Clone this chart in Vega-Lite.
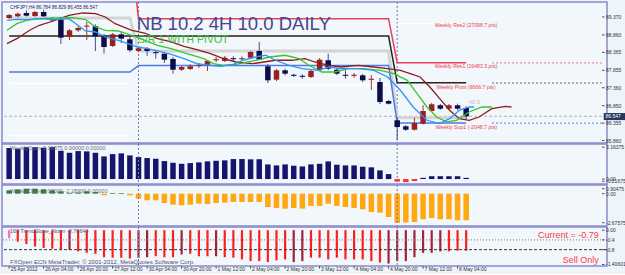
{
"$schema": "https://vega.github.io/schema/vega-lite/v6.json",
"background": "#eef5fa",
"padding": 0,
"spacing": 1,
"bounds": "flush",
"resolve": {"scale": {"color": "independent"}},
"config": {
 "view": {"stroke": "#8a8acb", "strokeWidth": 1.5, "fill": "#f1f7fb"},
 "text": {"font": "Liberation Sans"}
},
"datasets": {
 "candles": [
  {"i":0,"o":89.342,"h":89.455,"l":89.313,"c":89.427},
  {"i":1,"o":89.390,"h":89.498,"l":89.356,"c":89.464},
  {"i":2,"o":89.484,"h":89.560,"l":89.384,"c":89.407},
  {"i":3,"o":89.398,"h":89.540,"l":89.370,"c":89.512},
  {"i":4,"o":89.512,"h":89.577,"l":89.370,"c":89.390},
  {"i":5,"o":89.305,"h":89.370,"l":89.228,"c":89.275},
  {"i":6,"o":89.293,"h":89.342,"l":88.603,"c":88.782},
  {"i":7,"o":88.802,"h":89.029,"l":88.716,"c":88.992},
  {"i":8,"o":88.992,"h":89.106,"l":88.944,"c":89.057},
  {"i":9,"o":89.095,"h":89.228,"l":88.716,"c":89.125},
  {"i":10,"o":89.106,"h":89.163,"l":88.404,"c":88.822},
  {"i":11,"o":88.839,"h":88.887,"l":88.327,"c":88.517},
  {"i":12,"o":88.546,"h":88.915,"l":88.517,"c":88.878},
  {"i":13,"o":88.878,"h":88.944,"l":88.631,"c":88.753},
  {"i":14,"o":88.736,"h":88.802,"l":88.375,"c":88.424},
  {"i":15,"o":88.404,"h":88.517,"l":88.375,"c":88.481},
  {"i":16,"o":88.469,"h":88.517,"l":88.262,"c":88.404},
  {"i":17,"o":88.370,"h":88.424,"l":88.185,"c":88.340},
  {"i":18,"o":88.327,"h":88.375,"l":88.063,"c":88.157},
  {"i":19,"o":88.177,"h":88.233,"l":87.759,"c":87.872},
  {"i":20,"o":87.872,"h":87.977,"l":87.835,"c":87.949},
  {"i":21,"o":87.892,"h":88.025,"l":87.864,"c":87.969},
  {"i":22,"o":87.980,"h":88.063,"l":87.920,"c":88.010},
  {"i":23,"o":87.997,"h":88.149,"l":87.835,"c":88.120},
  {"i":24,"o":88.140,"h":88.233,"l":88.091,"c":88.170},
  {"i":25,"o":88.120,"h":88.262,"l":88.091,"c":88.213},
  {"i":26,"o":88.200,"h":88.253,"l":88.120,"c":88.170},
  {"i":27,"o":88.170,"h":88.253,"l":88.120,"c":88.200},
  {"i":28,"o":88.213,"h":88.404,"l":88.177,"c":88.375},
  {"i":29,"o":88.404,"h":88.660,"l":88.149,"c":88.157},
  {"i":30,"o":87.969,"h":88.034,"l":87.494,"c":87.571},
  {"i":31,"o":87.588,"h":87.892,"l":87.551,"c":87.855},
  {"i":32,"o":87.855,"h":87.901,"l":87.713,"c":87.759},
  {"i":33,"o":87.728,"h":87.759,"l":87.665,"c":87.698},
  {"i":34,"o":87.700,"h":87.742,"l":87.617,"c":87.670},
  {"i":35,"o":87.665,"h":87.872,"l":87.637,"c":87.835},
  {"i":36,"o":87.855,"h":88.205,"l":87.835,"c":88.157},
  {"i":37,"o":88.140,"h":88.327,"l":87.864,"c":87.901},
  {"i":38,"o":87.872,"h":87.920,"l":87.722,"c":87.759},
  {"i":39,"o":87.728,"h":87.855,"l":87.617,"c":87.698},
  {"i":40,"o":87.698,"h":87.779,"l":87.645,"c":87.728},
  {"i":41,"o":87.713,"h":87.750,"l":87.523,"c":87.571},
  {"i":42,"o":87.585,"h":87.722,"l":87.296,"c":87.615},
  {"i":43,"o":87.523,"h":87.637,"l":86.898,"c":86.955},
  {"i":44,"o":86.983,"h":87.012,"l":86.884,"c":86.906},
  {"i":45,"o":86.435,"h":86.528,"l":85.866,"c":86.244},
  {"i":46,"o":86.264,"h":86.301,"l":86.131,"c":86.167},
  {"i":47,"o":86.167,"h":86.508,"l":86.145,"c":86.358},
  {"i":48,"o":86.338,"h":86.861,"l":86.316,"c":86.699},
  {"i":49,"o":86.699,"h":86.926,"l":86.670,"c":86.889},
  {"i":50,"o":86.861,"h":86.898,"l":86.727,"c":86.764},
  {"i":51,"o":86.764,"h":86.898,"l":86.741,"c":86.861},
  {"i":52,"o":86.861,"h":86.906,"l":86.719,"c":86.764},
  {"i":53,"o":86.784,"h":86.829,"l":86.455,"c":86.547}
 ],
 "levels": [
  {"s":"white","g":"a","i":0,"p":87.48},{"s":"white","g":"a","i":14,"p":87.48},
  {"s":"white","g":"b","i":15,"p":87.44},{"s":"white","g":"b","i":44,"p":87.44},
  {"s":"white","g":"c","i":45,"p":89.18},{"s":"white","g":"c","i":53,"p":89.18},
  {"s":"white","g":"d","i":0,"p":86.0},{"s":"white","g":"d","i":14,"p":86.0},
  {"s":"red","g":"r","i":0,"p":91.5},{"s":"red","g":"r","i":14,"p":91.5},{"s":"red","g":"r","i":15,"p":89.322},{"s":"red","g":"r","i":44,"p":89.322},{"s":"red","g":"r","i":45,"p":88.07},{"s":"red","g":"r","i":53,"p":88.07},
  {"s":"black","g":"k","i":0,"p":88.83},{"s":"black","g":"k","i":44,"p":88.83},{"s":"black","g":"k","i":45,"p":87.5},{"s":"black","g":"k","i":53,"p":87.5},
  {"s":"blue","g":"u","i":0,"p":87.807},{"s":"blue","g":"u","i":14,"p":87.807},{"s":"blue","g":"u","i":15,"p":87.99},{"s":"blue","g":"u","i":44,"p":87.99},{"s":"blue","g":"u","i":45,"p":86.355},{"s":"blue","g":"u","i":53,"p":86.355}
 ],
 "gray": [
  {"i":0,"p":89.342},{"i":14,"p":89.342},{"i":15,"p":88.404},{"i":44,"p":88.404},{"i":45,"p":86.51},{"i":53,"p":86.51}
 ],
 "ma": [
  {"s":"ma_brown","i":-0.25,"p":88.611},{"s":"ma_brown","i":0.89,"p":88.753},{"s":"ma_brown","i":2.37,"p":88.992},{"s":"ma_brown","i":3.51,"p":89.134},{"s":"ma_brown","i":5.11,"p":89.256},{"s":"ma_brown","i":6.93,"p":89.418},{"s":"ma_brown","i":8.53,"p":89.484},{"s":"ma_brown","i":10.01,"p":89.464},{"s":"ma_brown","i":11.15,"p":89.37},{"s":"ma_brown","i":12.29,"p":89.18},{"s":"ma_brown","i":14.23,"p":88.992},{"s":"ma_brown","i":15.72,"p":88.915},{"s":"ma_brown","i":17.2,"p":88.753},{"s":"ma_brown","i":18.8,"p":88.66},{"s":"ma_brown","i":20.28,"p":88.537},{"s":"ma_brown","i":21.76,"p":88.441},{"s":"ma_brown","i":23.36,"p":88.327},{"s":"ma_brown","i":24.84,"p":88.185},{"s":"ma_brown","i":26.32,"p":88.091},{"s":"ma_brown","i":28.26,"p":88.043},{"s":"ma_brown","i":30.88,"p":88.14},{"s":"ma_brown","i":32.82,"p":88.14},{"s":"ma_brown","i":34.31,"p":88.185},{"s":"ma_brown","i":35.45,"p":88.091},{"s":"ma_brown","i":37.04,"p":87.997},{"s":"ma_brown","i":38.53,"p":87.949},{"s":"ma_brown","i":40.47,"p":87.997},{"s":"ma_brown","i":42.29,"p":87.949},{"s":"ma_brown","i":43.89,"p":87.901},{"s":"ma_brown","i":45.37,"p":87.855},{"s":"ma_brown","i":46.51,"p":87.759},{"s":"ma_brown","i":47.65,"p":87.665},{"s":"ma_brown","i":48.79,"p":87.381},{"s":"ma_brown","i":49.93,"p":87.048},{"s":"ma_brown","i":51.07,"p":86.719},{"s":"ma_brown","i":52.21,"p":86.48},{"s":"ma_brown","i":53.35,"p":86.435},{"s":"ma_brown","i":54.49,"p":86.528},{"s":"ma_brown","i":55.97,"p":86.764},{"s":"ma_brown","i":57.57,"p":86.832},{"s":"ma_brown","i":58.25,"p":86.812},
  {"s":"ma_green","i":-0.25,"p":88.992},{"s":"ma_green","i":0.89,"p":89.18},{"s":"ma_green","i":2.03,"p":89.276},{"s":"ma_green","i":3.51,"p":89.322},{"s":"ma_green","i":5.45,"p":89.342},{"s":"ma_green","i":7.39,"p":89.35},{"s":"ma_green","i":8.87,"p":89.293},{"s":"ma_green","i":10.01,"p":89.086},{"s":"ma_green","i":11.15,"p":88.992},{"s":"ma_green","i":12.64,"p":88.972},{"s":"ma_green","i":14.23,"p":88.85},{"s":"ma_green","i":15.72,"p":88.708},{"s":"ma_green","i":17.2,"p":88.566},{"s":"ma_green","i":18.8,"p":88.469},{"s":"ma_green","i":20.62,"p":88.327},{"s":"ma_green","i":22.56,"p":88.185},{"s":"ma_green","i":23.7,"p":88.043},{"s":"ma_green","i":24.84,"p":87.997},{"s":"ma_green","i":26.32,"p":88.026},{"s":"ma_green","i":28.6,"p":88.14},{"s":"ma_green","i":30.2,"p":88.233},{"s":"ma_green","i":32.02,"p":88.282},{"s":"ma_green","i":33.62,"p":88.185},{"s":"ma_green","i":34.76,"p":87.997},{"s":"ma_green","i":36.24,"p":87.807},{"s":"ma_green","i":37.73,"p":87.807},{"s":"ma_green","i":39.33,"p":87.901},{"s":"ma_green","i":41.15,"p":87.901},{"s":"ma_green","i":43.09,"p":87.855},{"s":"ma_green","i":44.57,"p":87.759},{"s":"ma_green","i":46.17,"p":87.571},{"s":"ma_green","i":47.31,"p":87.19},{"s":"ma_green","i":48.45,"p":86.812},{"s":"ma_green","i":49.59,"p":86.528},{"s":"ma_green","i":50.73,"p":86.386},{"s":"ma_green","i":51.87,"p":86.435},{"s":"ma_green","i":53.35,"p":86.67},{"s":"ma_green","i":54.83,"p":86.812},{"s":"ma_green","i":55.97,"p":86.812},
  {"s":"ma_blue","i":-0.25,"p":89.276},{"s":"ma_blue","i":0.89,"p":89.305},{"s":"ma_blue","i":2.03,"p":89.293},{"s":"ma_blue","i":3.51,"p":89.322},{"s":"ma_blue","i":5.45,"p":89.293},{"s":"ma_blue","i":6.93,"p":89.322},{"s":"ma_blue","i":7.96,"p":89.134},{"s":"ma_blue","i":8.87,"p":88.972},{"s":"ma_blue","i":10.01,"p":88.944},{"s":"ma_blue","i":11.15,"p":88.802},{"s":"ma_blue","i":12.64,"p":88.708},{"s":"ma_blue","i":13.78,"p":88.611},{"s":"ma_blue","i":14.92,"p":88.517},{"s":"ma_blue","i":16.06,"p":88.469},{"s":"ma_blue","i":17.2,"p":88.404},{"s":"ma_blue","i":18.8,"p":88.31},{"s":"ma_blue","i":20.28,"p":88.185},{"s":"ma_blue","i":21.76,"p":88.043},{"s":"ma_blue","i":23.36,"p":87.997},{"s":"ma_blue","i":24.5,"p":87.969},{"s":"ma_blue","i":25.98,"p":88.026},{"s":"ma_blue","i":27.12,"p":88.14},{"s":"ma_blue","i":28.6,"p":88.233},{"s":"ma_blue","i":29.74,"p":88.282},{"s":"ma_blue","i":30.88,"p":88.14},{"s":"ma_blue","i":32.48,"p":87.997},{"s":"ma_blue","i":33.96,"p":87.901},{"s":"ma_blue","i":35.9,"p":87.855},{"s":"ma_blue","i":37.04,"p":87.949},{"s":"ma_blue","i":38.53,"p":87.901},{"s":"ma_blue","i":40.47,"p":87.901},{"s":"ma_blue","i":42.29,"p":87.855},{"s":"ma_blue","i":43.89,"p":87.665},{"s":"ma_blue","i":45.37,"p":87.287},{"s":"ma_blue","i":46.85,"p":86.812},{"s":"ma_blue","i":48.45,"p":86.435},{"s":"ma_blue","i":49.93,"p":86.338},{"s":"ma_blue","i":51.07,"p":86.48},{"s":"ma_blue","i":52.21,"p":86.719},{"s":"ma_blue","i":53.35,"p":86.812},{"s":"ma_blue","i":53.92,"p":86.812}
 ],
 "seps": [{"i":15},{"i":45}],
 "p2": [
  {"i":0,"v":3.07},{"i":1,"v":3.0},{"i":2,"v":3.16},{"i":3,"v":3.16},{"i":4,"v":3.1},{"i":5,"v":3.16},{"i":6,"v":2.8},{"i":7,"v":2.6},{"i":8,"v":2.77},{"i":9,"v":2.74},{"i":10,"v":2.6},{"i":11,"v":2.24},{"i":12,"v":2.47},{"i":13,"v":2.54},{"i":14,"v":2.34},{"i":15,"v":2.18},{"i":16,"v":2.08},{"i":17,"v":2.01},{"i":18,"v":1.78},{"i":19,"v":1.61},{"i":20,"v":1.51},{"i":21,"v":1.58},{"i":22,"v":1.65},{"i":23,"v":1.75},{"i":24,"v":1.81},{"i":25,"v":1.85},{"i":26,"v":1.98},{"i":27,"v":1.98},{"i":28,"v":1.95},{"i":29,"v":1.95},{"i":30,"v":1.45},{"i":31,"v":1.35},{"i":32,"v":1.45},{"i":33,"v":1.32},{"i":34,"v":1.25},{"i":35,"v":1.45},{"i":36,"v":1.51},{"i":37,"v":1.75},{"i":38,"v":1.42},{"i":39,"v":1.35},{"i":40,"v":1.35},{"i":41,"v":1.22},{"i":42,"v":1.16},{"i":43,"v":0.86},{"i":44,"v":0.49},{"i":45,"v":-0.25},{"i":46,"v":-0.3},{"i":47,"v":-0.2},{"i":48,"v":0.12},{"i":49,"v":0.28},{"i":50,"v":0.28},{"i":51,"v":0.28},{"i":52,"v":0.28},{"i":53,"v":0.12}
 ],
 "p3": [
  {"i":0,"v":0.31},{"i":1,"v":0.4},{"i":2,"v":0.46},{"i":3,"v":0.46},{"i":4,"v":0.4},{"i":5,"v":0.31},{"i":6,"v":0.22},{"i":7,"v":0.06},{"i":8,"v":0.1},{"i":9,"v":0.22},{"i":10,"v":0.15},{"i":11,"v":-0.15},{"i":12,"v":0.06},{"i":13,"v":0.06},{"i":14,"v":-0.15},{"i":15,"v":-0.46},{"i":16,"v":-0.61},{"i":17,"v":-0.61},{"i":18,"v":-0.86},{"i":19,"v":-1.01},{"i":20,"v":-1.07},{"i":21,"v":-1.01},{"i":22,"v":-0.92},{"i":23,"v":-0.95},{"i":24,"v":-0.86},{"i":25,"v":-0.83},{"i":26,"v":-0.77},{"i":27,"v":-0.77},{"i":28,"v":-0.77},{"i":29,"v":-0.77},{"i":30,"v":-1.23},{"i":31,"v":-1.32},{"i":32,"v":-1.38},{"i":33,"v":-1.32},{"i":34,"v":-1.38},{"i":35,"v":-1.13},{"i":36,"v":-1.13},{"i":37,"v":-0.92},{"i":38,"v":-1.13},{"i":39,"v":-1.23},{"i":40,"v":-1.32},{"i":41,"v":-1.44},{"i":42,"v":-1.69},{"i":43,"v":-1.75},{"i":44,"v":-2.15},{"i":45,"v":-2.68},{"i":46,"v":-2.66},{"i":47,"v":-2.61},{"i":48,"v":-2.36},{"i":49,"v":-2.24},{"i":50,"v":-2.36},{"i":51,"v":-2.36},{"i":52,"v":-2.45},{"i":53,"v":-2.45}
 ],
 "p4": [
  {"i":0,"v":-0.33,"c":"p"},{"i":1,"v":-0.47,"c":"r"},{"i":2,"v":-0.57,"c":"r"},{"i":3,"v":-0.67,"c":"r"},{"i":4,"v":-0.73,"c":"r"},{"i":5,"v":-0.76,"c":"r"},{"i":6,"v":-0.8,"c":"r"},{"i":7,"v":-0.8,"c":"d"},{"i":8,"v":-0.87,"c":"r"},{"i":9,"v":-0.93,"c":"r"},{"i":10,"v":-0.97,"c":"r"},{"i":11,"v":-1.11,"c":"r"},{"i":12,"v":-1.13,"c":"r"},{"i":13,"v":-1.13,"c":"r"},{"i":14,"v":-1.16,"c":"r"},{"i":15,"v":-1.13,"c":"d"},{"i":16,"v":-1.11,"c":"d"},{"i":17,"v":-1.07,"c":"r"},{"i":18,"v":-1.11,"c":"r"},{"i":19,"v":-1.11,"c":"r"},{"i":20,"v":-1.0,"c":"d"},{"i":21,"v":-0.97,"c":"r"},{"i":22,"v":-1.07,"c":"r"},{"i":23,"v":-1.07,"c":"r"},{"i":24,"v":-1.07,"c":"d"},{"i":25,"v":-1.11,"c":"r"},{"i":26,"v":-1.13,"c":"r"},{"i":27,"v":-1.2,"c":"r"},{"i":28,"v":-1.27,"c":"r"},{"i":29,"v":-1.27,"c":"r"},{"i":30,"v":-1.31,"c":"r"},{"i":31,"v":-1.24,"c":"r"},{"i":32,"v":-1.2,"c":"r"},{"i":33,"v":-1.31,"c":"d"},{"i":34,"v":-1.27,"c":"d"},{"i":35,"v":-1.13,"c":"r"},{"i":36,"v":-1.13,"c":"r"},{"i":37,"v":-1.2,"c":"r"},{"i":38,"v":-1.13,"c":"r"},{"i":39,"v":-1.2,"c":"r"},{"i":40,"v":-1.2,"c":"r"},{"i":41,"v":-1.2,"c":"r"},{"i":42,"v":-1.27,"c":"r"},{"i":43,"v":-1.33,"c":"r"},{"i":44,"v":-1.37,"c":"d"},{"i":45,"v":-1.27,"c":"d"},{"i":46,"v":-1.27,"c":"d"},{"i":47,"v":-1.11,"c":"d"},{"i":48,"v":-0.93,"c":"d"},{"i":49,"v":-0.93,"c":"d"},{"i":50,"v":-0.87,"c":"d"},{"i":51,"v":-0.87,"c":"r"},{"i":52,"v":-0.84,"c":"r"},{"i":53,"v":-0.84,"c":"r"}
 ],
 "ylab1": [
  {"i":68.75,"i2":69.05,"p":85.86,"t":"85.860"},{"i":68.75,"i2":69.05,"p":86.355,"t":"86.355"},{"i":68.75,"i2":69.05,"p":86.85,"t":"86.850"},{"i":68.75,"i2":69.05,"p":87.36,"t":"87.360"},{"i":68.75,"i2":69.05,"p":87.855,"t":"87.855"},{"i":68.75,"i2":69.05,"p":88.365,"t":"88.365"},{"i":68.75,"i2":69.05,"p":88.86,"t":"88.860"},{"i":68.75,"i2":69.05,"p":89.37,"t":"89.370"}
 ],
 "ylab2": [
  {"i":68.75,"i2":69.05,"v":3.16375,"t":"3.16375"},{"i":68.75,"i2":69.05,"v":0,"t":"0.00"},{"i":68.75,"i2":69.05,"v":-0.21675,"t":"-0.21675"}
 ],
 "ylab3": [
  {"i":68.75,"i2":69.05,"v":0.46,"t":"0.90475"},{"i":68.75,"i2":69.05,"v":0,"t":"0.00"},{"i":68.75,"i2":69.05,"v":-2.67575,"t":"-2.67575"}
 ],
 "ylab4": [
  {"i":68.75,"i2":69.05,"v":0,"t":"0.00"},{"i":68.75,"i2":69.05,"v":-0.4,"t":"-0.4"},{"i":68.75,"i2":69.05,"v":-0.8,"t":"-0.8"},{"i":68.75,"i2":69.05,"v":-1.40601,"t":"-1.40601"}
 ],
 "xlab": [
  {"i":0,"t":"25 Apr 2012"},{"i":4,"t":"26 Apr 04:00"},{"i":8,"t":"26 Apr 20:00"},{"i":12,"t":"27 Apr 12:00"},{"i":16,"t":"30 Apr 04:00"},{"i":20,"t":"30 Apr 20:00"},{"i":24,"t":"1 May 12:00"},{"i":28,"t":"2 May 04:00"},{"i":32,"t":"2 May 20:00"},{"i":36,"t":"3 May 12:00"},{"i":40,"t":"4 May 04:00"},{"i":44,"t":"4 May 20:00"},{"i":48,"t":"7 May 12:00"},{"i":52,"t":"8 May 04:00"}
 ]
},
"vconcat": [
 {
  "width": 605, "height": 141,
  "resolve": {"scale": {"color": "independent"}},
  "layer": [
   {"data": {"values": [{"p": 86.547}]}, "mark": {"type": "rule", "color": "#b5b5b5", "strokeDash": [3,2], "strokeWidth": 1},
    "encoding": {"y": {"field": "p", "type": "quantitative", "scale": {"domain": [85.789, 89.796], "nice": false, "zero": false}, "axis": null}}},
   {"data": {"name": "seps"}, "mark": {"type": "rule", "color": "#7676b6", "strokeDash": [2,2], "strokeWidth": 1},
    "encoding": {"x": {"field": "i", "type": "quantitative", "scale": {"domain": [-0.25, 68.75], "nice": false, "zero": false}, "axis": null}}},
   {"data": {"name": "gray"}, "mark": {"type": "line", "color": "#d4d4d4", "strokeWidth": 3, "clip": true},
    "encoding": {"x": {"field": "i", "type": "quantitative", "axis": null}, "y": {"field": "p", "type": "quantitative", "axis": null}}},
   {"data": {"name": "levels"}, "mark": {"type": "line", "strokeWidth": 1.5, "clip": true},
    "encoding": {"x": {"field": "i", "type": "quantitative", "axis": null}, "y": {"field": "p", "type": "quantitative", "axis": null},
     "color": {"field": "s", "type": "nominal", "scale": {"domain": ["white", "red", "black", "blue"], "range": ["#ffffff", "#e8415a", "#25251a", "#4f7be6"]}, "legend": null},
     "detail": {"field": "g"}}},
   {"data": {"values": [{"k": "res1", "i": 56, "i2": 68.75, "p": 88.065}, {"k": "piv", "i": 56, "i2": 68.75, "p": 87.495}, {"k": "sup1", "i": 56, "i2": 68.75, "p": 86.355}]},
    "mark": {"type": "rule", "strokeDash": [2,2], "strokeWidth": 1},
    "encoding": {"x": {"field": "i", "type": "quantitative", "axis": null}, "x2": {"field": "i2"}, "y": {"field": "p", "type": "quantitative", "axis": null},
     "color": {"field": "k", "type": "nominal", "scale": {"domain": ["res1", "piv", "sup1"], "range": ["#f07080", "#6a6a6a", "#5a80e0"]}, "legend": null}}},
   {"data": {"name": "candles"}, "mark": {"type": "rule", "strokeWidth": 1},
    "encoding": {"x": {"field": "i", "type": "quantitative", "axis": null}, "y": {"field": "l", "type": "quantitative", "axis": null}, "y2": {"field": "h"},
     "color": {"condition": {"test": "datum.c > datum.o", "value": "#9a3a3a"}, "value": "#4a4a94"}}},
   {"data": {"name": "candles"}, "mark": {"type": "bar", "size": 5.5},
    "encoding": {"x": {"field": "i", "type": "quantitative", "axis": null}, "y": {"field": "o", "type": "quantitative", "axis": null}, "y2": {"field": "c"},
     "color": {"condition": {"test": "datum.c > datum.o", "value": "#9b2020"}, "value": "#0d0d4c"}}},
   {"data": {"name": "ma"}, "mark": {"type": "line", "strokeWidth": 1.3},
    "encoding": {"x": {"field": "i", "type": "quantitative", "axis": null}, "y": {"field": "p", "type": "quantitative", "axis": null},
     "color": {"field": "s", "type": "nominal", "scale": {"domain": ["ma_brown", "ma_green", "ma_blue"], "range": ["#8e1c1c", "#38c438", "#2f95f5"]}, "legend": null}}},
   {"data": {"values": [{"i": 14.8, "p": 89.01, "t": "NB 10.2 4H 10.0 DAILY"}]},
    "mark": {"type": "text", "align": "left", "baseline": "alphabetic", "fontSize": 18.5, "color": "#47478f"},
    "encoding": {"x": {"field": "i", "type": "quantitative", "axis": null}, "y": {"field": "p", "type": "quantitative", "axis": null}, "text": {"field": "t"}}},
   {"data": {"values": [{"i": 14.95, "p": 88.64, "t": "S/R 1 WITH PIVOT"}]},
    "mark": {"type": "text", "align": "left", "baseline": "alphabetic", "fontSize": 10.5, "color": "#3cbf3c"},
    "encoding": {"x": {"field": "i", "type": "quantitative", "axis": null}, "y": {"field": "p", "type": "quantitative", "axis": null}, "text": {"field": "t"}}},
   {"data": {"values": [{"i": 0.1, "p": 89.589, "t": "CHFJPY,H4  86.784 86.829 86.455 86.547"}]},
    "mark": {"type": "text", "align": "left", "baseline": "alphabetic", "fontSize": 4.7, "color": "#1c1c60"},
    "encoding": {"x": {"field": "i", "type": "quantitative", "axis": null}, "y": {"field": "p", "type": "quantitative", "axis": null}, "text": {"field": "t"}}},
   {"data": {"values": [
     {"i": 49.36, "p": 89.086, "t": "Weekly Res2 (27098.7 pts)"},
     {"i": 49.36, "p": 87.912, "t": "Weekly Res1 (19483.3 pts)"},
     {"i": 49.55, "p": 87.324, "t": "Weekly Pivot (9666.7 pts)"},
     {"i": 49.47, "p": 86.187, "t": "Weekly Sup1 (-2048.7 pts)"}]},
    "mark": {"type": "text", "align": "left", "baseline": "alphabetic", "fontSize": 5.2, "color": "#f0404f"},
    "encoding": {"x": {"field": "i", "type": "quantitative", "axis": null}, "y": {"field": "p", "type": "quantitative", "axis": null}, "text": {"field": "t"}}},
   {"data": {"values": [{"i": 53.27, "p": 86.889, "t": "48.5"}]},
    "mark": {"type": "text", "align": "left", "baseline": "alphabetic", "fontSize": 6, "color": "#c4c4c4"},
    "encoding": {"x": {"field": "i", "type": "quantitative", "axis": null}, "y": {"field": "p", "type": "quantitative", "axis": null}, "text": {"field": "t"}}},
   {"data": {"name": "ylab1"}, "mark": {"type": "rule", "color": "#505050", "strokeWidth": 1},
    "encoding": {"x": {"field": "i", "type": "quantitative", "axis": null}, "x2": {"field": "i2"}, "y": {"field": "p", "type": "quantitative", "axis": null}}},
   {"data": {"name": "ylab1"}, "mark": {"type": "text", "align": "left", "baseline": "middle", "dx": 4, "fontSize": 5, "color": "#303030"},
    "encoding": {"x": {"field": "i", "type": "quantitative", "axis": null}, "y": {"field": "p", "type": "quantitative", "axis": null}, "text": {"field": "t"}}},
   {"data": {"values": [{"i": 68.95, "i2": 71.5, "p1": 86.44, "p2": 86.64}]},
    "mark": {"type": "rect", "color": "#26365f"},
    "encoding": {"x": {"field": "i", "type": "quantitative", "axis": null}, "x2": {"field": "i2"}, "y": {"field": "p1", "type": "quantitative", "axis": null}, "y2": {"field": "p2"}}},
   {"data": {"values": [{"i": 69.15, "p": 86.547, "t": "86.547"}]},
    "mark": {"type": "text", "align": "left", "baseline": "middle", "fontSize": 5, "color": "#ffffff"},
    "encoding": {"x": {"field": "i", "type": "quantitative", "axis": null}, "y": {"field": "p", "type": "quantitative", "axis": null}, "text": {"field": "t"}}}
  ]
 },
 {
  "width": 605, "height": 40,
  "layer": [
   {"data": {"name": "p2"}, "mark": {"type": "bar", "size": 5.5},
    "encoding": {"x": {"field": "i", "type": "quantitative", "scale": {"domain": [-0.25, 68.75], "nice": false, "zero": false}, "axis": null},
     "y": {"field": "v", "type": "quantitative", "scale": {"domain": [-0.49, 3.47], "nice": false, "zero": false}, "axis": null},
     "y2": {"datum": 0},
     "color": {"condition": {"test": "datum.v < 0", "value": "#ff3030"}, "value": "#15156e"}}},
   {"data": {"name": "seps"}, "mark": {"type": "rule", "color": "#7676b6", "strokeDash": [2,2], "strokeWidth": 1},
    "encoding": {"x": {"field": "i", "type": "quantitative", "axis": null}}},
   {"data": {"values": [{"i": 0.1, "v": 2.84, "t": "WeeklyOpen 3.16375 0.00000 0.00000"}]},
    "mark": {"type": "text", "align": "left", "baseline": "alphabetic", "fontSize": 5.5, "color": "#6a6a80"},
    "encoding": {"x": {"field": "i", "type": "quantitative", "axis": null}, "y": {"field": "v", "type": "quantitative", "axis": null}, "text": {"field": "t"}}},
   {"data": {"name": "ylab2"}, "mark": {"type": "rule", "color": "#505050", "strokeWidth": 1},
    "encoding": {"x": {"field": "i", "type": "quantitative", "axis": null}, "x2": {"field": "i2"}, "y": {"field": "v", "type": "quantitative", "axis": null}}},
   {"data": {"name": "ylab2"}, "mark": {"type": "text", "align": "left", "baseline": "middle", "dx": 4, "fontSize": 5, "color": "#303030"},
    "encoding": {"x": {"field": "i", "type": "quantitative", "axis": null}, "y": {"field": "v", "type": "quantitative", "axis": null}, "text": {"field": "t"}}}
  ]
 },
 {
  "width": 605, "height": 41,
  "layer": [
   {"data": {"name": "p3"}, "mark": {"type": "bar", "size": 5.5},
    "encoding": {"x": {"field": "i", "type": "quantitative", "scale": {"domain": [-0.25, 68.75], "nice": false, "zero": false}, "axis": null},
     "y": {"field": "v", "type": "quantitative", "scale": {"domain": [-2.98, 0.80], "nice": false, "zero": false}, "axis": null},
     "y2": {"datum": 0},
     "color": {"condition": {"test": "datum.v < 0", "value": "#ffa812"}, "value": "#2e7d3c"}}},
   {"data": {"name": "seps"}, "mark": {"type": "rule", "color": "#7676b6", "strokeDash": [2,2], "strokeWidth": 1},
    "encoding": {"x": {"field": "i", "type": "quantitative", "axis": null}}},
   {"data": {"values": [{"i": 0.1, "v": 0.09, "t": "WeeklyOpen 0.00000 -2.18900 0.00000"}]},
    "mark": {"type": "text", "align": "left", "baseline": "alphabetic", "fontSize": 5.5, "color": "#6a6a80"},
    "encoding": {"x": {"field": "i", "type": "quantitative", "axis": null}, "y": {"field": "v", "type": "quantitative", "axis": null}, "text": {"field": "t"}}},
   {"data": {"name": "ylab3"}, "mark": {"type": "rule", "color": "#505050", "strokeWidth": 1},
    "encoding": {"x": {"field": "i", "type": "quantitative", "axis": null}, "x2": {"field": "i2"}, "y": {"field": "v", "type": "quantitative", "axis": null}}},
   {"data": {"name": "ylab3"}, "mark": {"type": "text", "align": "left", "baseline": "middle", "dx": 4, "fontSize": 5, "color": "#303030"},
    "encoding": {"x": {"field": "i", "type": "quantitative", "axis": null}, "y": {"field": "v", "type": "quantitative", "axis": null}, "text": {"field": "t"}}}
  ]
 },
 {
  "width": 605, "height": 39,
  "layer": [
   {"data": {"name": "p4"}, "mark": {"type": "bar", "size": 2.2},
    "encoding": {"x": {"field": "i", "type": "quantitative", "scale": {"domain": [-0.25, 68.75], "nice": false, "zero": false}, "axis": null},
     "y": {"field": "v", "type": "quantitative", "scale": {"domain": [-1.47, 0.13], "nice": false, "zero": false}, "axis": null},
     "y2": {"datum": 0},
     "color": {"field": "c", "type": "nominal", "scale": {"domain": ["p", "r", "d"], "range": ["#ff66cc", "#ff1e1e", "#a3223a"]}, "legend": null}}},
   {"data": {"values": [{"v": -0.4}]}, "mark": {"type": "rule", "color": "#777777", "strokeDash": [1,2], "strokeWidth": 1},
    "encoding": {"y": {"field": "v", "type": "quantitative", "axis": null}}},
   {"data": {"values": [{"v": -0.8}]}, "mark": {"type": "rule", "color": "#333333", "strokeDash": [3,2], "strokeWidth": 1},
    "encoding": {"y": {"field": "v", "type": "quantitative", "axis": null}}},
   {"data": {"name": "seps"}, "mark": {"type": "rule", "color": "#7676b6", "strokeDash": [2,2], "strokeWidth": 1},
    "encoding": {"x": {"field": "i", "type": "quantitative", "axis": null}}},
   {"data": {"values": [{"i": 0.1, "v": -0.136, "t": "160 TrendSlope_Norm -0.78644"}]},
    "mark": {"type": "text", "align": "left", "baseline": "alphabetic", "fontSize": 5.5, "color": "#555566"},
    "encoding": {"x": {"field": "i", "type": "quantitative", "axis": null}, "y": {"field": "v", "type": "quantitative", "axis": null}, "text": {"field": "t"}}},
   {"data": {"values": [{"i": 0.1, "v": -1.388, "t": "FXOpen ECN MetaTrader, © 2001-2012, MetaQuotes Software Corp."}]},
    "mark": {"type": "text", "align": "left", "baseline": "alphabetic", "fontSize": 6, "color": "#555566"},
    "encoding": {"x": {"field": "i", "type": "quantitative", "axis": null}, "y": {"field": "v", "type": "quantitative", "axis": null}, "text": {"field": "t"}}},
   {"data": {"values": [{"i": 68.37, "v": -0.336, "t": "Current = -0.79"}, {"i": 68.37, "v": -1.36, "t": "Sell Only"}]},
    "mark": {"type": "text", "align": "right", "baseline": "alphabetic", "fontSize": 9, "color": "#ff3a4a"},
    "encoding": {"x": {"field": "i", "type": "quantitative", "axis": null}, "y": {"field": "v", "type": "quantitative", "axis": null}, "text": {"field": "t"}}},
   {"data": {"name": "ylab4"}, "mark": {"type": "rule", "color": "#505050", "strokeWidth": 1},
    "encoding": {"x": {"field": "i", "type": "quantitative", "axis": null}, "x2": {"field": "i2"}, "y": {"field": "v", "type": "quantitative", "axis": null}}},
   {"data": {"name": "ylab4"}, "mark": {"type": "text", "align": "left", "baseline": "middle", "dx": 4, "fontSize": 5, "color": "#303030"},
    "encoding": {"x": {"field": "i", "type": "quantitative", "axis": null}, "y": {"field": "v", "type": "quantitative", "axis": null}, "text": {"field": "t"}}},
   {"data": {"name": "xlab"}, "mark": {"type": "rule", "color": "#505050", "strokeWidth": 1},
    "encoding": {"x": {"field": "i", "type": "quantitative", "axis": null}, "y": {"datum": -1.47, "type": "quantitative", "axis": null}, "y2": {"datum": -1.58}}},
   {"data": {"name": "xlab"}, "mark": {"type": "text", "align": "left", "baseline": "top", "dx": 1.5, "fontSize": 5, "color": "#303030"},
    "encoding": {"x": {"field": "i", "type": "quantitative", "axis": null}, "y": {"datum": -1.53, "type": "quantitative", "axis": null}, "text": {"field": "t"}}}
  ]
 }
]
}
